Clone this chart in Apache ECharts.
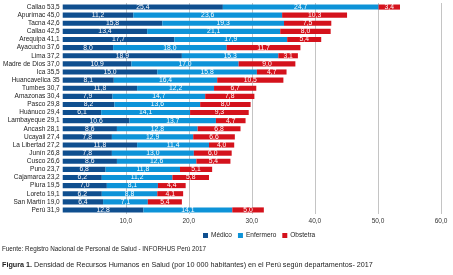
<!DOCTYPE html>
<html>
<head>
<meta charset="utf-8">
<script src="https://cdn.jsdelivr.net/npm/echarts@6/dist/echarts.min.js"></script>
<style>
  html, body { margin: 0; padding: 0; background: #fff; }
  #chart { width: 453px; height: 275px; }
</style>
</head>
<body>
<div id="chart"></div>
<script>
// departamentos (con total por 10 000 hab.)
const categories = [
  'Callao 53,5', 'Apurímac 45,0', 'Tacna 42,6', 'Callao 42,5', 'Arequipa 41,1',
  'Ayacucho 37,6', 'Lima 37,2', 'Madre de Dios 37,0', 'Ica 35,5', 'Huancavelica 35',
  'Tumbes 30,7', 'Amazonas 30,4', 'Pasco 29,8', 'Huánuco 29,4', 'Lambayeque 29,1',
  'Ancash 28,1', 'Ucayali 27,4', 'La Libertad 27,2', 'Junín 26,8', 'Cusco 26,6',
  'Puno 23,7', 'Cajamarca 23,2', 'Piura 19,5', 'Loreto 19,1', 'San Martín 19,0',
  'Perú 31,9'
]
const medico = [25.4, 11.2, 15.8, 13.4, 17.7, 8.0, 18.9, 10.9, 15.0, 8.1, 11.8, 7.9, 8.2, 6.1, 10.6, 8.6, 7.8, 11.8, 7.8, 8.6, 6.8, 6.2, 7.0, 6.2, 6.4, 12.8]
const enfermero = [24.7, 23.6, 19.3, 21.1, 17.9, 18.0, 15.3, 17.0, 15.8, 16.4, 12.2, 14.7, 13.6, 14.1, 13.7, 12.8, 12.9, 11.4, 13.0, 12.6, 11.8, 11.2, 8.1, 8.8, 7.1, 14.1]
const obstetra = [3.4, 10.3, 7.5, 8.0, 5.4, 11.7, 3.1, 9.0, 4.7, 10.5, 6.7, 7.8, 8.0, 9.3, 4.7, 6.8, 6.6, 4.0, 6.0, 5.4, 5.1, 5.8, 4.4, 4.1, 5.4, 5.0]

const fmt = v => v.toFixed(1).replace('.', ',')
const font = 'Liberation Sans, Arial, sans-serif'

const chart = echarts.init(document.getElementById('chart'))

function makeSeries(name, data, color) {
  return {
    name: name,
    type: 'bar',
    stack: 'total',
    data: data,
    barCategoryGap: '37%',
    itemStyle: { color: color },
    label: {
      show: true,
      position: 'inside',
      color: '#fff',
      fontFamily: font,
      fontSize: 6.8,
      formatter: p => fmt(p.value)
    },
    emphasis: { disabled: true }
  }
}

chart.setOption({
  animation: false,
  textStyle: { fontFamily: font },
  grid: { left: 61, right: 12, top: 3, bottom: 61 },
  legend: {
    left: 198,
    top: 227,
    itemWidth: 5,
    itemHeight: 5,
    itemGap: 6,
    icon: 'rect',
    textStyle: { fontSize: 6.5, color: '#222', padding: [0, 0, 0, -2] },
    data: ['Médico', 'Enfermero', 'Obstetra']
  },
  xAxis: {
    type: 'value',
    min: 0,
    max: 60,
    interval: 10,
    axisLine: { show: false },
    axisTick: { show: false },
    splitLine: { show: true, showMinLine: false, lineStyle: { color: '#c4c4c4', width: 1 } },
    axisLabel: {
      fontSize: 6.5,
      color: '#333',
      margin: 4,
      formatter: v => (v === 0 ? '' : fmt(v))
    }
  },
  yAxis: {
    type: 'category',
    inverse: true,
    data: categories,
    axisLine: { show: false },
    axisTick: { show: false },
    axisLabel: { interval: 0, fontSize: 6.5, color: '#222', margin: 3 }
  },
  series: [
    makeSeries('Médico', medico, '#0f4f8f'),
    makeSeries('Enfermero', enfermero, '#0d93d8'),
    makeSeries('Obstetra', obstetra, '#d4121c')
  ],
  graphic: [
    {
      type: 'text',
      left: 2,
      top: 246,
      style: {
        text: 'Fuente: Registro Nacional de Personal de Salud - INFORHUS Perú 2017',
        fontFamily: font,
        fontSize: 6.3,
        fill: '#222'
      }
    },
    {
      type: 'text',
      left: 2,
      top: 262,
      style: {
        text: '{b|Figura 1.} Densidad de Recursos Humanos en Salud (por 10 000 habitantes) en el Perú según departamentos- 2017',
        fontFamily: font,
        fontSize: 7.2,
        fill: '#222',
        rich: { b: { fontWeight: 'bold', fontSize: 7.2, fontFamily: font, fill: '#222' } }
      }
    }
  ]
})
</script>
</body>
</html>
